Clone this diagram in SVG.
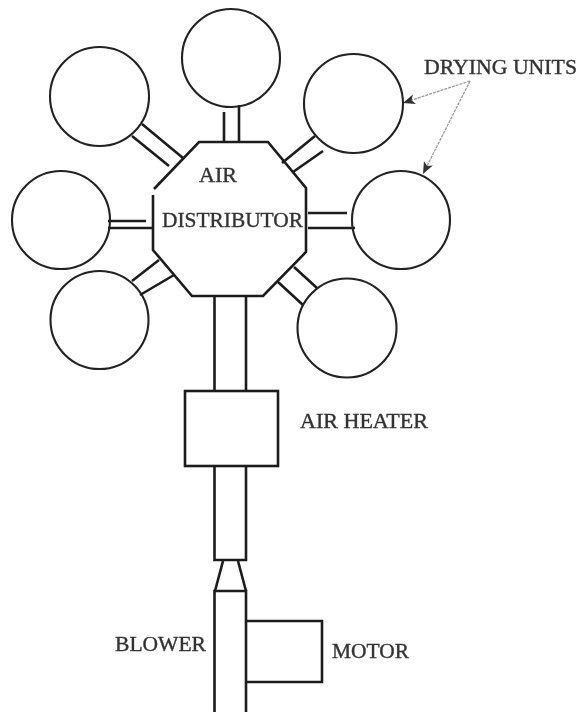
<svg xmlns="http://www.w3.org/2000/svg" width="581" height="712" viewBox="0 0 581 712">
<style>
.s{fill:none;stroke:#1c1c1c;stroke-width:2.6}
.c{fill:none;stroke:#222;stroke-width:2.1}
text{font-family:"Liberation Serif","Times New Roman",serif;font-size:20.5px;fill:#333;stroke:#333;stroke-width:.35}
.a{fill:none;stroke:#999;stroke-width:1.3;stroke-dasharray:3 1}
</style>
<defs>
<filter id="soft" x="0" y="0" width="1" height="1" filterUnits="objectBoundingBox"><feGaussianBlur stdDeviation="0.45"/></filter>
<marker id="ah" markerUnits="userSpaceOnUse" markerWidth="14" markerHeight="12" refX="12" refY="5" orient="auto"><path d="M0 0L12 5L0 10L3 5Z" fill="#333"/></marker>
</defs>
<rect width="581" height="712" fill="#fff"/>
<g filter="url(#soft)">
<rect width="581" height="712" fill="#fff"/>
<g id="connectors">
<path class="s" d="M224 112V142M239 105V142"/>
<path class="s" d="M282 163L315 136M293 172L323 151"/>
<path class="s" d="M308 213H347M308 228H355"/>
<path class="s" d="M278 282L303 305M294 267L317 288"/>
<path class="s" d="M159 260L132 281M174 275L140 295"/>
<path class="s" d="M108 221H146M108 228H153"/>
<path class="s" d="M142 124L183 158M132 136L169 166"/>
<path class="s" d="M214.500 296V391M246 296V391"/>
<path class="s" d="M214.500 466V560H246V466"/>
<path class="s" d="M223 561L215 591M238 561L246 591"/>
<path class="a" d="M470 81L403 103" marker-end="url(#ah)"/>
<path class="a" d="M470 81L423 174" marker-end="url(#ah)"/>
</g>
<g id="distributor">
<path class="s" d="M153 195V250L192 296H263L306 252V188L268 142H199L154 189"/>
<text x="199" y="182" textLength="38" lengthAdjust="spacingAndGlyphs">AIR</text>
<text x="162" y="227" textLength="141" lengthAdjust="spacingAndGlyphs">DISTRIBUTOR</text>
</g>
<g id="unit-top"><circle class="c" cx="231" cy="58" r="49"/></g>
<g id="unit-upper-right"><circle class="c" cx="353.500" cy="103.500" r="49.500"/></g>
<g id="unit-right"><circle class="c" cx="401" cy="220" r="49"/></g>
<g id="unit-lower-right"><circle class="c" cx="347" cy="328" r="49.500"/></g>
<g id="unit-lower-left"><circle class="c" cx="99.500" cy="320" r="49"/></g>
<g id="unit-left"><circle class="c" cx="61" cy="220" r="49"/></g>
<g id="unit-upper-left"><circle class="c" cx="99.500" cy="96.500" r="49.500"/></g>
<g id="drying-units-label"><text x="424" y="74" textLength="153" lengthAdjust="spacingAndGlyphs">DRYING UNITS</text></g>
<g id="air-heater"><rect class="s" x="185" y="391" width="93" height="75"/><text x="300" y="428" textLength="128" lengthAdjust="spacingAndGlyphs">AIR HEATER</text></g>
<g id="blower"><path class="s" d="M214.500 712V591H246V712"/><text x="115" y="651" textLength="91" lengthAdjust="spacingAndGlyphs">BLOWER</text></g>
<g id="motor"><path class="s" d="M247 621H322V682H247"/><text x="332" y="658" textLength="77" lengthAdjust="spacingAndGlyphs">MOTOR</text></g>
</g>
</svg>
